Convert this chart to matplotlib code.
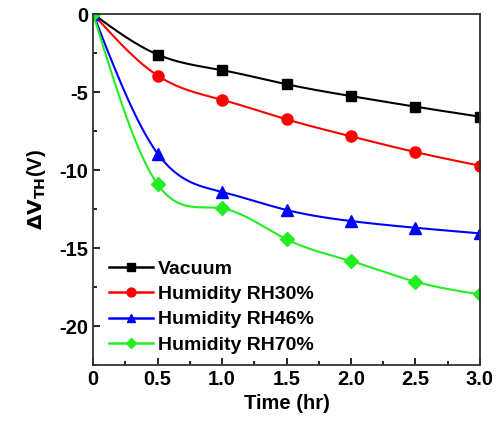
import numpy as np
import matplotlib.pyplot as plt
from matplotlib.ticker import MultipleLocator

plt.rcParams['font.family'] = ['Liberation Sans', 'DejaVu Sans']
plt.rcParams['font.weight'] = 'bold'
plt.rcParams['axes.unicode_minus'] = False

time_hr = [0, 0.5, 1.0, 1.5, 2.0, 2.5, 3.0]
vacuum = [0, -2.6, -3.6, -4.5, -5.26, -5.94, -6.58]
rh30 = [0, -3.95, -5.5, -6.75, -7.84, -8.85, -9.72]
rh46 = [0, -8.95, -11.4, -12.56, -13.27, -13.7, -14.06]
rh70 = [0, -10.92, -12.46, -14.44, -15.83, -17.16, -17.97]

labels = ['Vacuum', 'Humidity RH30%', 'Humidity RH46%', 'Humidity RH70%']
colors = ['#000000', '#ff0000', '#0000ff', '#22ee22']
markers = ['s', 'o', '^', 'D']
msizes = [7.5, 8, 8, 7]


def natural_spline(x, y, n=300):
    # natural cubic spline through the measured points, for the smooth connecting line
    x = np.asarray(x, float)
    y = np.asarray(y, float)
    k = len(x)
    h = np.diff(x)
    A = np.zeros((k, k))
    b = np.zeros(k)
    A[0, 0] = A[-1, -1] = 1
    for i in range(1, k - 1):
        A[i, i - 1] = h[i - 1]
        A[i, i] = 2 * (h[i - 1] + h[i])
        A[i, i + 1] = h[i]
        b[i] = 3 * ((y[i + 1] - y[i]) / h[i] - (y[i] - y[i - 1]) / h[i - 1])
    c = np.linalg.solve(A, b)
    xs = np.linspace(x[0], x[-1], n)
    idx = np.clip(np.searchsorted(x, xs) - 1, 0, k - 2)
    dx = xs - x[idx]
    bb = (y[idx + 1] - y[idx]) / h[idx] - h[idx] * (c[idx + 1] + 2 * c[idx]) / 3
    d = (c[idx + 1] - c[idx]) / (3 * h[idx])
    ys = y[idx] + bb * dx + c[idx] * dx ** 2 + d * dx ** 3
    return xs, ys


fig = plt.figure(figsize=(5.01, 4.25), dpi=100)
ax = fig.add_axes([0.186, 0.141, 0.772, 0.826])

for series, lab, col, mk, ms in zip([vacuum, rh30, rh46, rh70], labels, colors, markers, msizes):
    xs, ys = natural_spline(time_hr, series)
    ax.plot(xs, ys, color=col, lw=1.5)
    ax.plot(time_hr, series, ls='none', marker=mk, color=col, markersize=ms)
    ax.plot([], [], color=col, lw=1.8, marker=mk, markersize=ms * 0.8, label=lab)

ax.set_xlim(0, 3.0)
ax.set_ylim(-22.5, 0)
ax.xaxis.set_major_locator(MultipleLocator(0.5))
ax.xaxis.set_minor_locator(MultipleLocator(0.25))
ax.yaxis.set_major_locator(MultipleLocator(5))
ax.yaxis.set_minor_locator(MultipleLocator(2.5))
ax.set_xticks([0, 0.5, 1.0, 1.5, 2.0, 2.5, 3.0])
ax.set_xticklabels(['0', '0.5', '1.0', '1.5', '2.0', '2.5', '3.0'])
ax.tick_params(which='both', direction='in', labelsize=14.5, width=1.2)
ax.tick_params(which='major', length=5)
ax.tick_params(which='minor', length=3)
for s in ax.spines.values():
    s.set_linewidth(1.3)
    s.set_color('#333333')

ax.set_xlabel('Time (hr)', fontsize=14.5, fontweight='bold', labelpad=4)
ax.set_ylabel(r'$\mathbf{\Delta V_{TH}}$(V)', fontsize=14.5, fontweight='bold', labelpad=8)

ax.legend(loc='lower left', frameon=False, fontsize=14, handlelength=2.3,
          handletextpad=0.25, labelspacing=0.4, borderaxespad=0.0,
          bbox_to_anchor=(0.02, 0.01))

fig.savefig('out.png', dpi=100)
